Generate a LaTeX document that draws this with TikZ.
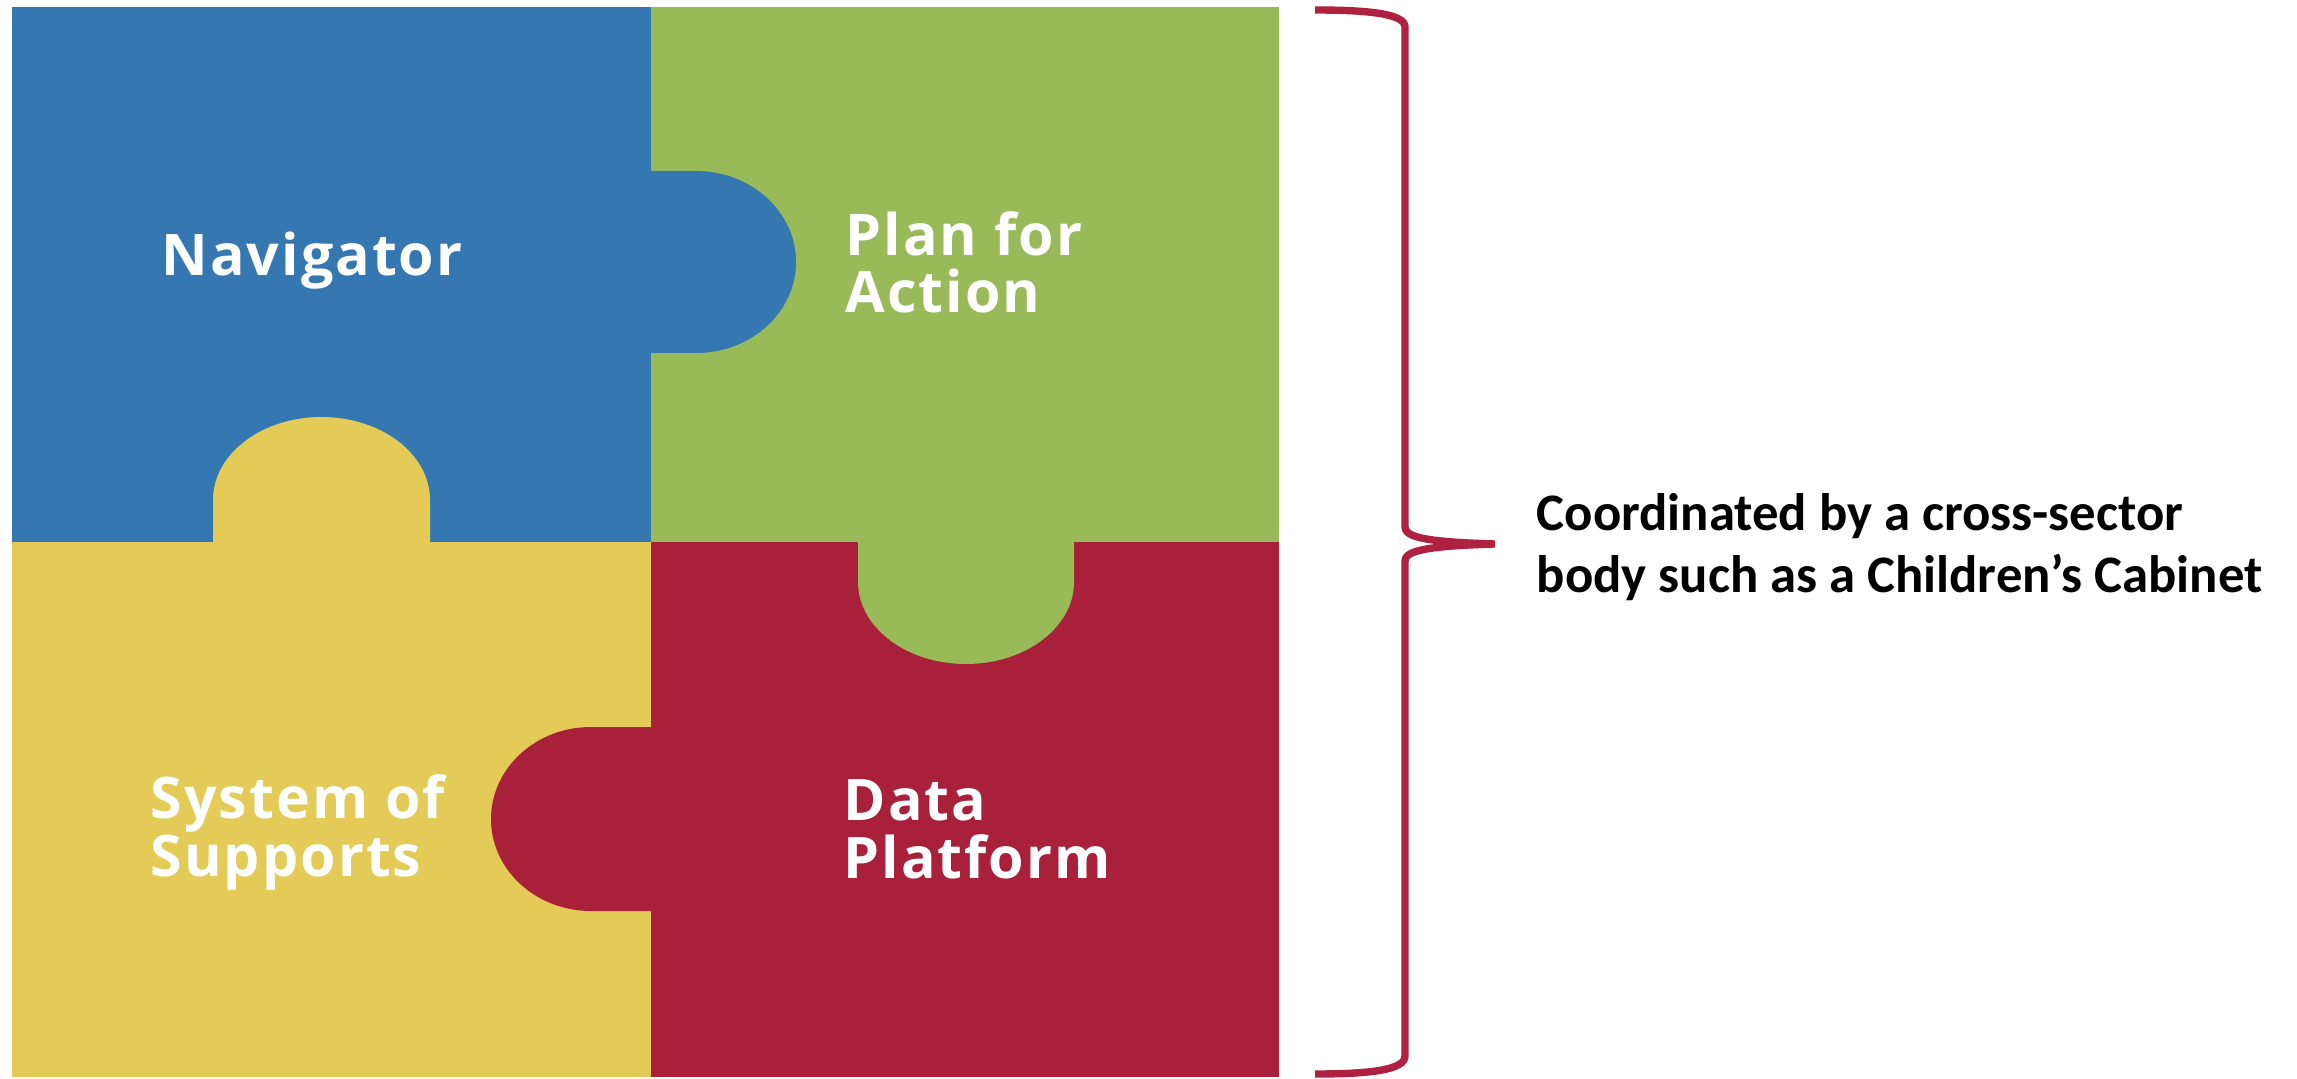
\documentclass[tikz,border=0pt]{standalone}
\usepackage{fontspec}
\setmainfont{Carlito}
\newfontfamily\piecefont[LetterSpace=3.5]{Open Sans}
\usetikzlibrary{positioning}
\definecolor{pzBlue}{RGB}{52, 119, 177}
\definecolor{pzGreen}{RGB}{152, 186, 88}
\definecolor{pzYellow}{RGB}{228, 203, 87}
\definecolor{pzRed}{RGB}{168, 32, 57}
\definecolor{braceRed}{RGB}{174, 33, 64}

\begin{document}
\begin{tikzpicture}[
    x=0.01cm, y=0.01cm,
    % Styles
    piece_label/.style={
        text=white, align=left, anchor=base west, inner sep=0pt,
        font=\piecefont\bfseries\fontsize{16.3}{16.3}\selectfont
    },
    note_text/.style={
        align=left, anchor=base west, inner sep=0pt,
        font=\bfseries\fontsize{15}{17.6}\selectfont
    },
    brace_line/.style={draw=braceRed, line width=2.1pt}
]
    \useasboundingbox (0,0) rectangle (2297,1078);
    \fill[white] (0,0) rectangle (2297,1078);

    % --- 1. The four squares ---
    \fill[pzBlue]   (12,536)  rectangle (651,1071);
    \fill[pzGreen]  (651,536) rectangle (1279,1071);
    \fill[pzYellow] (12,1)    rectangle (651,536);
    \fill[pzRed]    (651,1)   rectangle (1279,536);

    % --- 2. The knobs ---
    % blue into green
    \fill[pzBlue] (645,907) -- (696,907) arc[start angle=90, end angle=-90, x radius=100, y radius=91] -- (645,725) -- cycle;
    % yellow into blue
    \fill[pzYellow] (213,530) -- (213,578) arc[start angle=180, end angle=0, x radius=108.5, y radius=83] -- (430,530) -- cycle;
    % green into red
    \fill[pzGreen] (858,542) -- (858,496) arc[start angle=180, end angle=360, x radius=108, y radius=82] -- (1074,542) -- cycle;
    % red into yellow
    \fill[pzRed] (657,351) -- (591,351) arc[start angle=90, end angle=270, x radius=100, y radius=92] -- (657,167) -- cycle;

    % --- 3. Labels ---
    % base anchor sits on the last line
    \node[piece_label] (nav) at (161,802) {Navigator};
    \node[piece_label] (plan) at (845,765) {Plan for\\Action};
    \node[piece_label] (supports) at (150,202) {System of\\Supports};
    \node[piece_label] (data) at (843,200) {Data\\Platform};

    % --- 4. Brace and note ---
    \draw[brace_line] (1315,1068) .. controls (1370,1068) and (1405,1064) .. (1405,1051)
        -- (1405,551) .. controls (1405,541) and (1425,536) .. (1495,534)
        .. controls (1425,532) and (1405,527) .. (1405,517)
        -- (1405,22) .. controls (1405,8) and (1370,4) .. (1315,4);
    \node[note_text] (note) at (1536,486) {Coordinated by a cross-sector\\body such as a Children’s Cabinet};

\end{tikzpicture}
\end{document}
